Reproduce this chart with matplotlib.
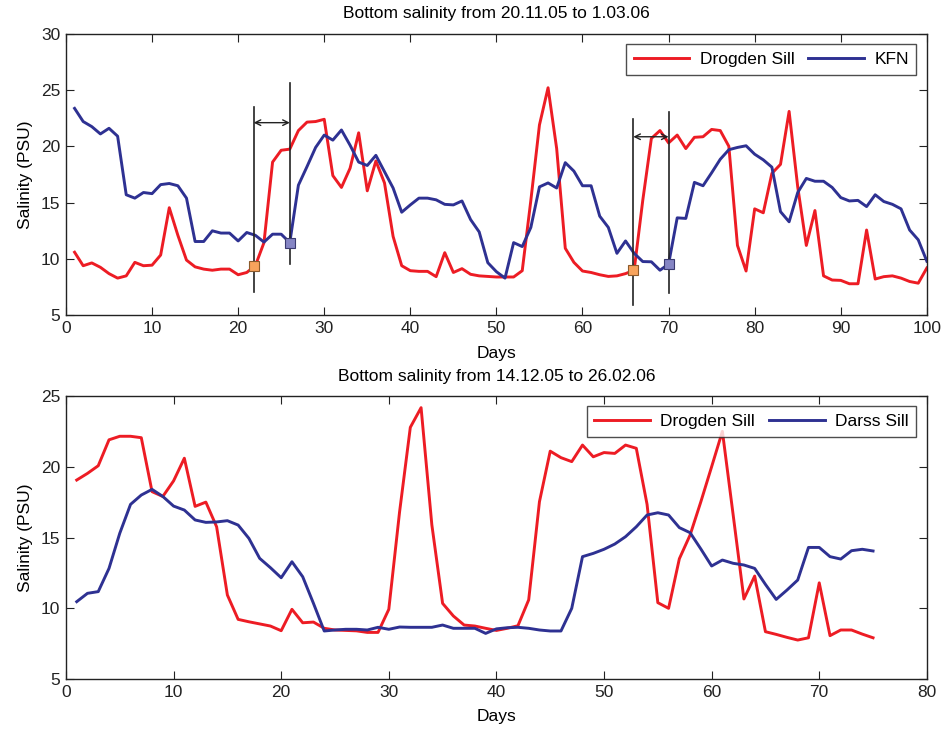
import numpy as np
import matplotlib.pyplot as plt

plt.rcParams['font.family'] = ['Liberation Sans', 'DejaVu Sans']

# Top panel: 20.11.05 - 1.03.06
days_top = np.arange(1, 101)
drogden_top = [10.6, 9.4, 9.65, 9.26, 8.7, 8.3, 8.5, 9.7, 9.4, 9.45,
               10.35, 14.55, 12.1, 9.9, 9.3, 9.1, 9.0, 9.1, 9.1, 8.6,
               8.8, 9.4, 11.45, 18.6, 19.65, 19.75, 21.4, 22.15, 22.2, 22.4,
               17.4, 16.35, 18.05, 21.2, 16.05, 18.7, 16.75, 12.0, 9.4, 8.96,
               8.9, 8.9, 8.43, 10.56, 8.8, 9.14, 8.64, 8.5, 8.45, 8.4,
               8.4, 8.4, 8.96, 15.2, 21.9, 25.2, 19.8, 10.95, 9.7, 8.93,
               8.8, 8.6, 8.45, 8.5, 8.7, 9.0, 15.2, 20.7, 21.4, 20.3,
               21.0, 19.8, 20.8, 20.85, 21.5, 21.4, 20.0, 11.2, 8.93, 14.45,
               14.1, 17.6, 18.4, 23.1, 16.4, 11.2, 14.3, 8.5, 8.13, 8.1,
               7.8, 7.8, 12.57, 8.22, 8.43, 8.5, 8.3, 8.0, 7.85, 9.2]
kfn_top = [23.37, 22.2, 21.75, 21.1, 21.6, 20.9, 15.7, 15.4, 15.9, 15.8,
           16.6, 16.7, 16.5, 15.4, 11.55, 11.55, 12.5, 12.3, 12.3, 11.6,
           12.35, 12.1, 11.5, 12.2, 12.2, 11.45, 16.55, 18.2, 19.9, 21.0,
           20.55, 21.45, 20.1, 18.6, 18.3, 19.2, 17.75, 16.3, 14.15, 14.8,
           15.4, 15.4, 15.25, 14.85, 14.8, 15.15, 13.5, 12.4, 9.67, 8.87,
           8.3, 11.45, 11.1, 12.8, 16.4, 16.75, 16.3, 18.55, 17.8, 16.5,
           16.5, 13.8, 12.8, 10.5, 11.6, 10.5, 9.77, 9.75, 9.0, 9.55,
           13.65, 13.6, 16.8, 16.5, 17.65, 18.85, 19.7, 19.9, 20.05, 19.3,
           18.8, 18.15, 14.2, 13.3, 15.9, 17.15, 16.9, 16.9, 16.35, 15.45,
           15.15, 15.2, 14.65, 15.7, 15.1, 14.85, 14.45, 12.57, 11.7, 9.8]

# Lag markers (vertical lines, arrows, squares)
lag_x = [21.8, 26.0, 65.9, 70.0]
lag_ylo = [7.1, 9.56, 5.9, 7.0]
lag_yhi = [23.5, 25.65, 22.4, 23.07]
arrow_y = [22.1, 20.85]
mark_orange = [(21.8, 9.4), (65.9, 9.0)]
mark_blue = [(26.0, 11.45), (70.0, 9.55)]

# Bottom panel: 14.12.05 - 26.02.06
days_bot = np.arange(1, 76)
drogden_bot = [19.06, 19.53, 20.07, 21.9, 22.15, 22.15, 22.05, 18.24, 17.9, 19.0,
               20.6, 17.2, 17.5, 15.76, 10.94, 9.22, 9.05, 8.9, 8.75, 8.42,
               9.93, 8.98, 9.03, 8.59, 8.47, 8.44, 8.41, 8.3, 8.3, 9.93,
               16.8, 22.78, 24.17, 15.9, 10.35, 9.46, 8.82, 8.75, 8.59, 8.44,
               8.59, 8.77, 10.6, 17.53, 21.1, 20.64, 20.36, 21.53, 20.7, 21.0,
               20.94, 21.53, 21.3, 17.34, 10.4, 10.0, 13.5, 15.18, 17.53, 20.0,
               22.5, 16.6, 10.66, 12.28, 8.35, 8.16, 7.95, 7.76, 7.92, 11.8,
               8.07, 8.47, 8.47, 8.18, 7.92]
darss_bot = [10.47, 11.06, 11.18, 12.82, 15.3, 17.34, 18.0, 18.4, 17.9, 17.22,
             16.94, 16.24, 16.07, 16.1, 16.19, 15.88, 14.94, 13.53, 12.87, 12.16,
             13.29, 12.23, 10.35, 8.4, 8.47, 8.52, 8.52, 8.47, 8.66, 8.52,
             8.68, 8.66, 8.66, 8.66, 8.82, 8.59, 8.59, 8.59, 8.23, 8.55,
             8.63, 8.66, 8.59, 8.47, 8.4, 8.4, 10.0, 13.65, 13.88, 14.17,
             14.54, 15.06, 15.76, 16.59, 16.75, 16.59, 15.7, 15.34, 14.19, 12.99,
             13.41, 13.18, 13.06, 12.82, 11.69, 10.63, 11.29, 12.0, 14.3, 14.3,
             13.65, 13.48, 14.07, 14.17, 14.05]

red = '#ED1C24'
blue = '#2E3192'
fs = 12.5

fig = plt.figure(figsize=(9.45, 7.29), dpi=100)
ax1 = fig.add_axes([0.0698, 0.5675, 0.911, 0.3863])
ax2 = fig.add_axes([0.0698, 0.0684, 0.911, 0.3885])

def style(ax, xmax, ymax, title):
    ax.set_xlim(0, xmax)
    ax.set_ylim(5, ymax)
    ax.set_xticks(np.arange(0, xmax + 1, 10))
    ax.set_yticks(np.arange(5, ymax + 1, 5))
    ax.tick_params(direction='in', top=True, right=True, length=6,
                   width=0.8, labelsize=fs, colors='#222222', pad=4)
    for s in ax.spines.values():
        s.set_linewidth(1.0)
        s.set_color('#222222')
    ax.set_xlabel('Days', fontsize=fs, labelpad=7)
    ax.set_ylabel('Salinity (PSU)', fontsize=fs, labelpad=6)
    ax.set_title(title, fontsize=fs, pad=11)

def add_legend(ax):
    ax.legend(loc='upper right', ncol=2, fontsize=fs, frameon=True, fancybox=False,
              edgecolor='#222222', handlelength=3.2, columnspacing=0.8,
              borderaxespad=0.6, handletextpad=0.6, borderpad=0.45)

ax1.plot(days_top, drogden_top, color=red, lw=2.1, label='Drogden Sill')
ax1.plot(days_top, kfn_top, color=blue, lw=2.1, label='KFN')
for x, lo, hi in zip(lag_x, lag_ylo, lag_yhi):
    ax1.plot([x, x], [lo, hi], color='#222222', lw=1.2, zorder=4)
for i, y in enumerate(arrow_y):
    ax1.annotate('', xy=(lag_x[2 * i + 1], y), xytext=(lag_x[2 * i], y),
                 arrowprops=dict(arrowstyle='<->', color='#222222', lw=1.0,
                                 shrinkA=0, shrinkB=0, mutation_scale=10))
for x, y in mark_orange:
    ax1.plot(x, y, 's', ms=7.5, mfc='#F7A35C', mec='#8C5A2B', mew=0.8, zorder=5)
for x, y in mark_blue:
    ax1.plot(x, y, 's', ms=7.5, mfc='#8585C4', mec='#3A3A70', mew=0.8, zorder=5)
style(ax1, 100, 30, 'Bottom salinity from 20.11.05 to 1.03.06')
add_legend(ax1)

ax2.plot(days_bot, drogden_bot, color=red, lw=2.1, label='Drogden Sill')
ax2.plot(days_bot, darss_bot, color=blue, lw=2.1, label='Darss Sill')
style(ax2, 80, 25, 'Bottom salinity from 14.12.05 to 26.02.06')
add_legend(ax2)

fig.savefig('out.png', dpi=100)
